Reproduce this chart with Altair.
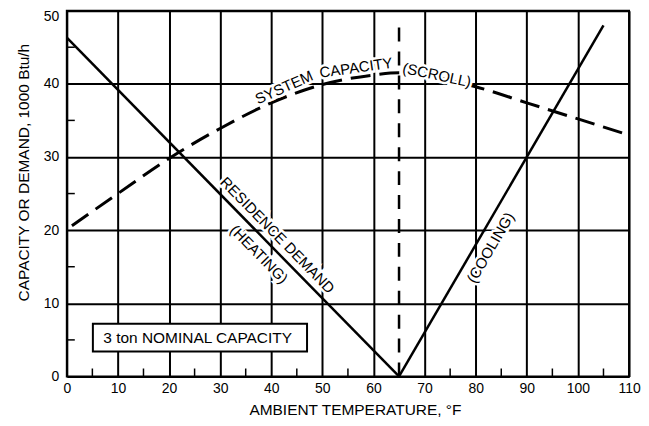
import altair as alt
import pandas as pd

FONT = "Liberation Sans"

# ---- data ----
heat_x = [0, 65]
heat_y = [46.3, 0]
cool_x = [65, 105]
cool_y = [0, 48]
cap_x = [1, 10, 20, 30, 40, 50, 60, 65, 70, 80, 90, 100, 110]
cap_y = [20.6, 25.0, 29.8, 33.9, 37.4, 39.9, 41.2, 41.5, 41.1, 39.6, 37.4, 35.2, 33.0]
balance_x = [65]
balance_y0 = [0]
balance_y1 = [48.9]

x_ticks = list(range(0, 111, 10))
y_ticks = list(range(0, 51, 10))
x_minor = list(range(5, 110, 10))
y_minor = list(range(5, 50, 10))

label_text = ["RESIDENCE DEMAND", "(HEATING)", "(COOLING)", "SYSTEM", "CAPACITY", "(SCROLL)"]
label_x = [41.2, 37.6, 82.9, 42.5, 56.6, 72.4]
label_y = [19.3, 16.7, 17.6, 39.5, 42.2, 41.2]
label_angle = [45.6, 45.6, 300.2, 336, 352, 12]

box_text = ["3 ton NOMINAL CAPACITY"]
box_x0, box_x1 = [5.1], [47.0]
box_y0, box_y1 = [3.4], [7.2]
box_tx, box_ty = [25.6], [5.3]

# ---- tables ----
heat = pd.DataFrame({"x": heat_x, "y": heat_y})
cool = pd.DataFrame({"x": cool_x, "y": cool_y})
cap = pd.DataFrame({"x": cap_x, "y": cap_y})
bal = pd.DataFrame({"x": balance_x, "y": balance_y0, "y2": balance_y1})
xm = pd.DataFrame({"x": x_minor})
ym = pd.DataFrame({"y": y_minor})
labels = pd.DataFrame({"t": label_text, "x": label_x, "y": label_y, "a": label_angle})
box = pd.DataFrame({"x": box_x0, "x2": box_x1, "y": box_y0, "y2": box_y1})
boxt = pd.DataFrame({"t": box_text, "x": box_tx, "y": box_ty})

W, H = 564, 367
xs = alt.Scale(domain=[0, 110], nice=False, zero=False)
ys = alt.Scale(domain=[0, 50], nice=False, zero=False)

xaxis = alt.Axis(values=x_ticks, grid=True, gridColor="black", gridWidth=2, gridOpacity=1,
                 domain=False, ticks=False, labelFontSize=14, labelColor="black", labelFont=FONT,
                 labelPadding=5, labelFlush=False, title="AMBIENT TEMPERATURE, °F",
                 titleFont=FONT, titleFontSize=15.5, titleFontWeight="normal", titleColor="black",
                 titleX=289, titleY=26)
yaxis = alt.Axis(values=y_ticks, grid=True, gridColor="black", gridWidth=2, gridOpacity=1,
                 domain=False, ticks=False, labelFontSize=14, labelColor="black", labelFont=FONT,
                 labelPadding=8, labelFlush=False,
                 labelOffset={"condition": {"test": "datum.value == 50", "value": 6}, "value": 0},
                 title="CAPACITY OR DEMAND, 1000 Btu/h",
                 titleFont=FONT, titleFontSize=15.5, titleFontWeight="normal", titleColor="black",
                 titleX=-35, titleY=162)

X = lambda: alt.X("x:Q", scale=xs, axis=xaxis)
Y = lambda: alt.Y("y:Q", scale=ys, axis=yaxis)

base_line = alt.Chart(heat).mark_line(color="black", strokeWidth=2.5).encode(x=X(), y=Y())
cool_line = alt.Chart(cool).mark_line(color="black", strokeWidth=2.5).encode(x="x:Q", y="y:Q")
cap_line = alt.Chart(cap).mark_line(color="black", strokeWidth=3, strokeDash=[20, 9],
                                    interpolate="monotone").encode(x="x:Q", y="y:Q")
bal_line = alt.Chart(bal).mark_rule(color="black", strokeWidth=2.5, strokeDash=[14, 10]).encode(
    x="x:Q", y="y:Q", y2="y2:Q")

xminor = alt.Chart(xm).mark_rule(color="black", strokeWidth=1.5).encode(
    x="x:Q", y=alt.value(H), y2=alt.value(H - 8))
yminor = alt.Chart(ym).mark_rule(color="black", strokeWidth=1.5).encode(
    y="y:Q", x=alt.value(0), x2=alt.value(8))

box_rect = alt.Chart(box).mark_rect(fill="white", stroke="black", strokeWidth=2).encode(
    x="x:Q", x2="x2:Q", y="y:Q", y2="y2:Q")
box_label = alt.Chart(boxt).mark_text(font=FONT, fontSize=15.5, color="black",
                                      align="center", baseline="middle").encode(
    x="x:Q", y="y:Q", text="t:N")

halo = alt.Chart(labels).mark_text(font=FONT, fontSize=15, fill="white", stroke="white",
                                   strokeWidth=5, align="center", baseline="middle").encode(
    x="x:Q", y="y:Q", text="t:N", angle=alt.Angle("a:Q", scale=None))
txt = alt.Chart(labels).mark_text(font=FONT, fontSize=15, color="black",
                                  align="center", baseline="middle").encode(
    x="x:Q", y="y:Q", text="t:N", angle=alt.Angle("a:Q", scale=None))

chart = alt.layer(
    base_line, cool_line, cap_line, bal_line, xminor, yminor,
    box_rect, box_label, halo, txt
).properties(
    width=W, height=H,
    autosize=alt.AutoSizeParams(type="none"),
    padding={"left": 59, "top": 2, "right": 12, "bottom": 41},
).configure_view(stroke="black", strokeWidth=2)

chart.save("out.html", embed_options={"renderer": "svg", "actions": False})
